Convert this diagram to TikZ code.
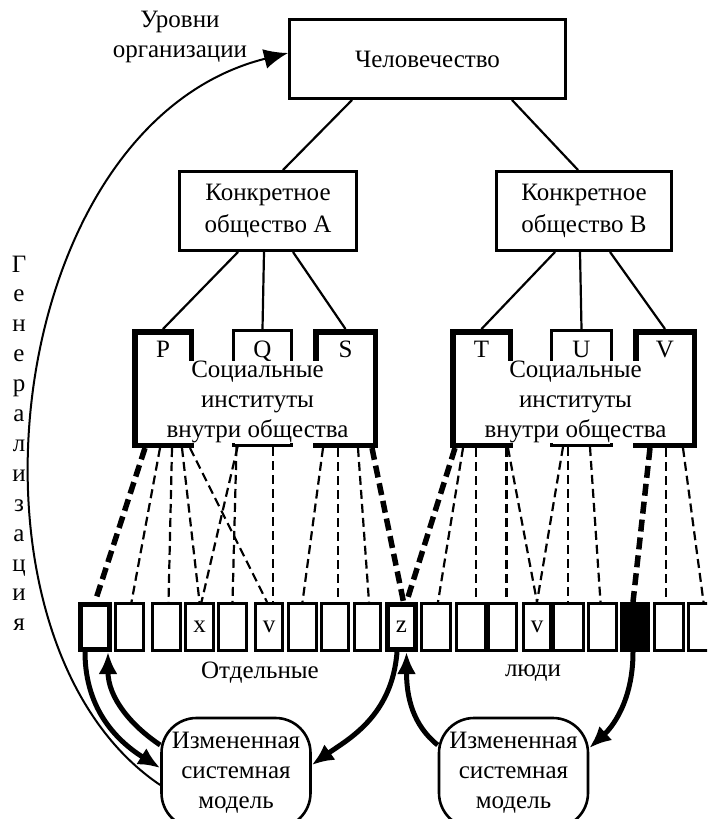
\documentclass[tikz,border=0pt]{standalone}
\usepackage{fontspec}
\setmainfont{Liberation Serif}
\usetikzlibrary{arrows.meta}
\begin{document}
\begin{tikzpicture}[x=1pt,y=-1pt,
  every node/.style={font=\fontsize{25}{30}\selectfont, inner sep=0pt},
  box/.style={draw, line width=2.6pt, align=center, minimum height=79.4pt},
  inst/.style={draw, line width=2.6pt},
  instthick/.style={draw, line width=5.5pt},
  cover/.style={fill=white, align=center, minimum width=195pt, minimum height=82pt},
  person/.style={draw, line width=2.6pt, minimum height=47.4pt},
  pthick/.style={draw, line width=5pt, minimum height=45pt},
  link/.style={line width=2.2pt},
  thindash/.style={line width=2.2pt, dash pattern=on 9pt off 5pt},
  thickdash/.style={line width=5.5pt, dash pattern=on 12pt off 6pt},
  arr/.style={line width=5pt, -{Latex[length=22pt,width=19pt]}},
  model/.style={draw, line width=2.6pt, rounded corners=35pt, minimum width=149pt, minimum height=110pt, align=center},
]
\useasboundingbox (0,0) rectangle (707,819);
\clip (0,0) rectangle (707,819);

% top levels
\node[box, minimum width=276.4pt] (top) at (427.5,59) {Человечество};
\node[box, minimum width=177.4pt, font=\fontsize{25}{32}\selectfont] (A) at (268,211) {Конкретное\\общество А};
\node[box, minimum width=175.4pt, font=\fontsize{25}{32}\selectfont] (B) at (584,211) {Конкретное\\общество B};
\draw[link] ([xshift=-75.5pt]top.south) -- ([xshift=15pt]A.north);
\draw[link] ([xshift=84.5pt]top.south) -- ([xshift=-6pt]B.north);

% institutes A
\node[instthick, minimum width=56.5pt, minimum height=113.5pt] (P) at (163,388.5) {};
\node[inst, minimum width=58.4pt, minimum height=115.4pt] (Q) at (262.5,388) {};
\node[instthick, minimum width=59.5pt, minimum height=113.5pt] (S) at (345.5,388.5) {};
\node[cover] (IA) at (257.5,402) {Социальные\\институты\\внутри общества};
\node[anchor=base] (Pl) at (163,357) {P};
\node[anchor=base] (Ql) at (262.5,357) {Q};
\node[anchor=base] (Sl) at (345.5,357) {S};
% institutes B
\node[instthick, minimum width=57.5pt, minimum height=113.5pt] (T) at (481.5,388.5) {};
\node[inst, minimum width=60.4pt, minimum height=115.4pt] (U) at (581.5,388) {};
\node[instthick, minimum width=58.5pt, minimum height=113.5pt] (V) at (665,388.5) {};
\node[cover] (IB) at (575.5,402) {Социальные\\институты\\внутри общества};
\node[anchor=base] (Tl) at (481.5,357) {T};
\node[anchor=base] (Ul) at (581.5,357) {U};
\node[anchor=base] (Vl) at (665,357) {V};

\draw[link] ([xshift=-30pt]A.south) -- (P.north);
\draw[link] ([xshift=-4pt]A.south) -- (Q.north);
\draw[link] ([xshift=25pt]A.south) -- (S.north);
\draw[link] ([xshift=-29pt]B.south) -- (T.north);
\draw[link] ([xshift=-4pt]B.south) -- (U.north);
\draw[link] ([xshift=26pt]B.south) -- (V.north);

% individuals
\node[pthick, minimum width=29pt] (p1) at (95,627) {};
\node[person, minimum width=28.4pt] (p2) at (129.5,627) {};
\node[person, minimum width=28.4pt] (p3) at (166.5,627) {};
\node[person, minimum width=28.4pt] (p4) at (199.5,627) {x};
\node[person, minimum width=28.4pt] (p5) at (232.5,627) {};
\node[person, minimum width=27.4pt] (p6) at (269,627) {v};
\node[person, minimum width=28.4pt] (p7) at (302.5,627) {};
\node[person, minimum width=27.4pt] (p8) at (335,627) {};
\node[person, minimum width=26.4pt] (p9) at (367.5,627) {};
\node[pthick, minimum width=28pt] (p10) at (401.5,627) {z};
\node[person, minimum width=29.4pt] (p11) at (436,627) {};
\node[person, minimum width=29.4pt] (p12) at (471,627) {};
\node[person, minimum width=28.4pt] (p13) at (502.5,627) {};
\node[person, minimum width=27.4pt] (p14) at (537,627) {v};
\node[person, minimum width=30.4pt] (p15) at (568.5,627) {};
\node[person, minimum width=28.4pt] (p16) at (602.5,627) {};
\node[person, minimum width=27.4pt, fill=black] (p17) at (635,627) {};
\node[person, minimum width=29.4pt] (p18) at (669,627) {};
\node[person, minimum width=30.4pt] (p19) at (703.5,627) {};

% dashed links A
\draw[thickdash] ([xshift=-18pt]P.south) -- (p1.north);
\draw[thindash] ([xshift=-3pt]P.south) -- ([xshift=2pt]p2.north);
\draw[thindash] ([xshift=9pt]P.south) -- ([xshift=2pt]p3.north);
\draw[thindash] ([xshift=19pt]P.south) -- (p4.north);
\draw[thindash] ([xshift=27pt]P.south) -- ([xshift=-2pt]p6.north);
\draw[thindash] ([xshift=-25pt]Q.south) -- ([xshift=2pt]p4.north);
\draw[thindash] ([xshift=-26pt]Q.south) -- (p5.north);
\draw[thindash] ([xshift=10.5pt]Q.south) -- ([xshift=4pt]p6.north);
\draw[thindash] ([xshift=-22.5pt]S.south) -- (p7.north);
\draw[thindash] ([xshift=-7.5pt]S.south) -- ([xshift=3pt]p8.north);
\draw[thindash] ([xshift=12.5pt]S.south) -- ([xshift=1.5pt]p9.north);
\draw[thickdash] ([xshift=26.5pt]S.south) -- ([xshift=2pt]p10.north);
% dashed links B
\draw[thickdash] ([xshift=-26.5pt]T.south) -- ([xshift=5pt]p10.north);
\draw[thindash] ([xshift=-18.5pt]T.south) -- ([xshift=2pt]p11.north);
\draw[thindash] ([xshift=-5.5pt]T.south) -- ([xshift=5pt]p12.north);
\draw[thindash] ([xshift=25pt]T.south) -- ([xshift=4pt]p13.north);
\draw[thindash] ([xshift=26.5pt]T.south) -- (p14.north);
\draw[thindash] ([xshift=-18.5pt]U.south) -- (p14.north);
\draw[thindash] ([xshift=-13.5pt]U.south) -- ([xshift=-0.5pt]p15.north);
\draw[thindash] ([xshift=8.5pt]U.south) -- ([xshift=-2pt]p16.north);
\draw[thickdash] ([xshift=-15pt]V.south) -- ([xshift=-2pt]p17.north);
\draw[thindash] ([xshift=1pt]V.south) -- ([xshift=-3pt]p18.north);
\draw[thindash] ([xshift=18pt]V.south) -- (p19.north);

% labels
\node[align=center] (lvl) at (180,37) {Уровни\\организации};
\node (ind1) at (260,673) {Отдельные};
\node (ind2) at (533,673) {люди};
\foreach \c [count=\i] in {Г,е,н,е,р,а,л,и,з,а,ц,и,я}
  \node[anchor=base] (g\i) at (19,{272+(\i-1)*29.9}) {\c};

% models
\node[model] (m1) at (236,773) {Измененная\\системная\\модель};
\node[model] (m2) at (513.5,773) {Измененная\\системная\\модель};

% arrows
\draw[arr] ([xshift=-10pt]p1.south) .. controls +(0,60) and +(-40,-25) .. ([yshift=5pt]m1.west);
\draw[arr] ([yshift=28pt]m1.west) .. controls +(-30,-20) and +(0,45) .. ([xshift=13pt]p1.south);
\draw[arr] ([xshift=-4.5pt]p10.south) .. controls +(-5,65) and +(35,-25) .. ([yshift=8pt]m1.east);
\draw[arr] ([yshift=28pt]m2.west) .. controls +(-25,-20) and +(0,45) .. ([xshift=5pt]p10.south);
\draw[arr] ([xshift=-2pt]p17.south) .. controls +(0,50) and +(22,-20) .. ([yshift=25pt]m2.east);
\draw[line width=2pt, -{Latex[length=24pt,width=20pt]}] ([yshift=-12pt]m1.west) .. controls (-55,640) and (0,125) .. ([yshift=6pt]top.west);
\end{tikzpicture}
\end{document}
